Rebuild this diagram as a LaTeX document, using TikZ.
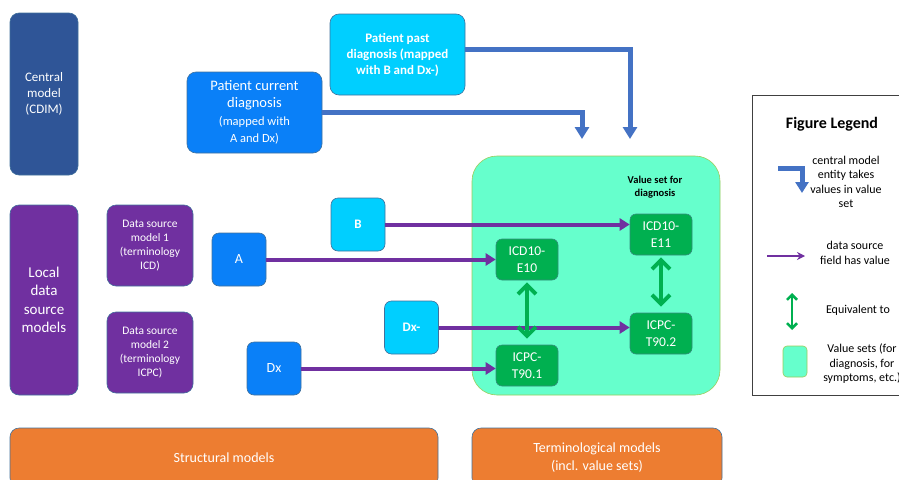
\documentclass[tikz,border=0pt]{standalone}
\usepackage{fontspec}
\setmainfont{Carlito}
\usetikzlibrary{arrows.meta}

\definecolor{cdimblue}{HTML}{2F5597}
\definecolor{localpurple}{HTML}{7030A0}
\definecolor{fieldblue}{HTML}{0A80F8}
\definecolor{fieldcyan}{HTML}{00CFFF}
\definecolor{codegreen}{HTML}{00B050}
\definecolor{setfill}{HTML}{66FFCC}
\definecolor{setedge}{HTML}{9BCB5A}
\definecolor{modelorange}{HTML}{ED7D31}
\definecolor{takesblue}{HTML}{4472C4}
\definecolor{edgeblue}{HTML}{41719C}

\newcommand\fs[2]{\fontsize{#1}{#2}\selectfont}

\begin{document}
\begin{tikzpicture}[x=1pt,y=-1pt,thick]
  \tikzset{
    box/.style={rounded corners=9pt,draw=edgeblue,line width=0.6pt,text=white,align=center,inner sep=2pt},
    cdimbox/.style={box,fill=cdimblue,minimum width=68pt,font=\fs{13}{16}},
    localbox/.style={box,fill=localpurple,minimum width=68pt,minimum height=190pt,font=\fs{15}{18.5}},
    dsbox/.style={box,fill=localpurple,minimum width=86pt,minimum height=81pt,font=\fs{11.5}{14}},
    entbox/.style={box,minimum width=135pt,minimum height=81pt},
    fieldbox/.style={box,minimum width=54pt,minimum height=53pt,rounded corners=7pt},
    codebox/.style={box,fill=codegreen,draw=edgeblue!80!green,minimum width=62pt,minimum height=41pt,rounded corners=6pt,font=\fs{13.5}{16.5}},
    modelbox/.style={box,fill=modelorange,minimum height=59pt,font=\fs{14}{18.5}},
    takes/.style={draw=takesblue,line width=5pt,-{Triangle[length=12pt,width=14pt]}},
    hasvalue/.style={draw=localpurple,line width=4pt,-{Triangle[length=10pt,width=12pt]}},
    equiv/.style={draw=codegreen,line width=4pt,{Straight Barb[length=9pt,width=18pt]}-{Straight Barb[length=9pt,width=18pt]},shorten <=2pt,shorten >=6pt},
    legtext/.style={text=black,align=center,font=\fs{12}{14.5}}
  }
  \useasboundingbox (0,0) rectangle (899,479);
  \clip (0,0) rectangle (899,479);

  % structural side
  \node[cdimbox,minimum height=162pt] (cdim) at (44,94) {Central\\model\\(CDIM)};
  \node[localbox] (local) at (44,300) {Local\\data\\source\\models};
  \node[dsbox] (ds1) at (150,245.5) {Data source\\model 1\\(terminology\\ICD)};
  \node[dsbox] (ds2) at (150,352.5) {Data source\\model 2\\(terminology\\ICPC)};

  \node[entbox,fill=fieldblue,font=\fs{14.5}{17.5}] (cur) at (254.5,112.5)
    {Patient current\\diagnosis\\\fs{12.5}{16}(mapped with\\\fs{12.5}{16}A and Dx)};
  \node[entbox,fill=fieldcyan,font=\bfseries\fs{13}{16}] (past) at (397.5,54.5)
    {Patient past\\diagnosis (mapped\\with B and Dx-)};

  \node[fieldbox,fill=fieldblue,font=\fs{14}{16}] (A) at (239,259.5) {A};
  \node[fieldbox,fill=fieldcyan,font=\bfseries\fs{13}{16}] (B) at (358,224.5) {B};
  \node[fieldbox,fill=fieldcyan,font=\bfseries\fs{13}{16}] (Dxm) at (411.5,327.5) {Dx-};
  \node[fieldbox,fill=fieldblue,font=\fs{14}{16}] (Dx) at (274,368.5) {Dx};

  % value set
  \node[box,fill=setfill,draw=setedge,rounded corners=25pt,minimum width=248pt,minimum height=239pt] (vs) at (596,275.5) {};
  \node[text=black,align=center,font=\bfseries\fs{10.5}{13.5}] (vstitle) at (655,187) {Value set for\\diagnosis};
  \node[codebox] (e11) at (661,234.5) {ICD10-\\E11};
  \node[codebox] (e10) at (527,259.5) {ICD10-\\E10};
  \node[codebox] (t902) at (661,333.5) {ICPC-\\T90.2};
  \node[codebox] (t901) at (527,365.5) {ICPC-\\T90.1};

  \node[modelbox,minimum width=428pt] (struct) at (224,457.5) {Structural models};
  \node[modelbox,minimum width=250pt] (term) at (597,457.5) {Terminological models\\(incl. value sets)};

  % connectors
  \coordinate (cur-tip) at (582,139);
  \coordinate (past-tip) at (630,139);
  \draw[takes] (cur.east) -| (cur-tip);
  \draw[takes] ([yshift=5.5pt]past.east) -| (past-tip);

  \draw[hasvalue] (B) -- (B -| e11.west);
  \draw[hasvalue] (A) -- (A -| e10.west);
  \draw[hasvalue] (Dxm) -- (Dxm -| t902.west);
  \draw[hasvalue] (Dx) -- (Dx -| t901.west);

  \draw[equiv] (e10) -- (t901);
  \draw[equiv] (e11) -- (t902);

  % legend
  \node[draw=black!75,line width=1pt,minimum width=153pt,minimum height=300pt] (legend) at (828.5,245) {};
  \node[text=black,font=\bfseries\fs{16}{19}] (legtitle) at (832,124) {Figure Legend};

  \coordinate (leg-takes-a) at (778,168);
  \coordinate (leg-takes-b) at (802,193);
  \draw[takes,-{Triangle[length=11pt,width=13pt]}] (leg-takes-a) -| (leg-takes-b);
  \node[legtext] (legt1) at (846,182) {central model\\entity takes\\values in value\\set};

  \coordinate (leg-has-a) at (767,256);
  \coordinate (leg-has-b) at (805,256);
  \draw[draw=localpurple,line width=1.8pt,-{Stealth[length=8pt,width=8pt]}] (leg-has-a) -- (leg-has-b);
  \node[legtext] (legt2) at (855,253) {data source\\field has value};

  \coordinate (leg-eq-a) at (792,293);
  \coordinate (leg-eq-b) at (792,330);
  \draw[draw=codegreen,line width=2.5pt,{Straight Barb[length=5pt,width=10pt]}-{Straight Barb[length=5pt,width=10pt]}] (leg-eq-a) -- (leg-eq-b);
  \node[legtext] (legt3) at (858,310) {Equivalent to};

  \node[box,fill=setfill,draw=setedge,rounded corners=4pt,minimum width=24pt,minimum height=31pt] (legset) at (795,361.5) {};
  \node[legtext] (legt4) at (862,364) {Value sets (for\\diagnosis, for\\symptoms, etc.)};
\end{tikzpicture}
\end{document}
